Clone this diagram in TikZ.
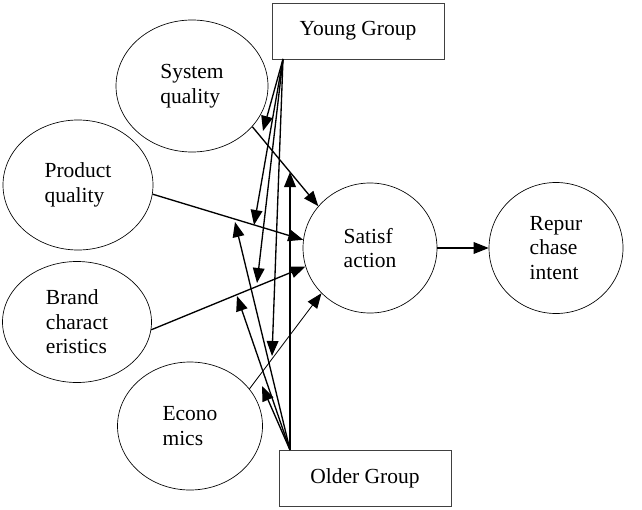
\documentclass[tikz,border=0pt]{standalone}
\usepackage{fontspec}
\setmainfont{Liberation Serif}
\usepackage{tikz}
\usetikzlibrary{shapes.geometric, arrows.meta, positioning, calc}

\begin{document}
\begin{tikzpicture}[
  x=0.6pt, y=-0.6pt,
  every node/.style={font=\fontsize{12.9}{14.7}\selectfont, align=left, inner sep=0pt},
  construct/.style={draw, ellipse, line width=0.4pt},
  group/.style={draw=black!75, rectangle, minimum width=103.2pt, minimum height=33.6pt, line width=0.5pt},
  arrow/.style={-{Triangle[length=9pt,width=7pt]}, line width=0.8pt},
  thinarrow/.style={arrow, line width=0.5pt}
]
\useasboundingbox (0,0) rectangle (642,509);

% Nodes
\node[construct, minimum width=91.2pt, minimum height=79.2pt] (sys) at (192,86) {System\\quality};
\node[construct, minimum width=90pt, minimum height=78pt] (prod) at (78,185) {Product\\quality};
\node[construct, minimum width=89.4pt, minimum height=72.6pt] (brand) at (77,322) {Brand\\charact\\eristics};
\node[construct, minimum width=87pt, minimum height=76.8pt] (econ) at (190,426) {Econo\\mics};
\node[construct, minimum width=80.4pt, minimum height=78pt] (sat) at (370,248) {Satisf\\action};
\node[construct, minimum width=80.4pt, minimum height=78.6pt] (rep) at (556,248) {Repur\\chase\\intent};
\node[group] (young) at (358,31) {Young Group};
\node[group] (older) at (365,478) {Older Group};

% Fan points
\coordinate (young_fan) at (283,59);
\coordinate (older_fan) at (290,450);
\coordinate (young_sys) at (263,131);
\coordinate (young_prod) at (254,225);
\coordinate (young_brand) at (257,283);
\coordinate (young_econ) at (272,356);
\coordinate (older_sys) at (290,172);
\coordinate (older_prod) at (235,222);
\coordinate (older_brand) at (237,296);
\coordinate (older_econ) at (262,386);

% Arrows
\draw[arrow] (sys.-34) -- (sat.141);
\draw[arrow] (prod.-7) -- (sat.173);
\draw[arrow] (brand.-6) -- (sat.-164);
\draw[thinarrow] (econ.32) -- (sat.-137);
\draw[arrow] (sat.east) -- (rep.west);

% Moderators
\foreach \t in {sys, prod, brand, econ}
  \draw[arrow] (young_fan) -- (young_\t);
\foreach \t in {sys, prod, brand, econ}
  \draw[arrow] (older_fan) -- (older_\t);

\end{tikzpicture}
\end{document}
